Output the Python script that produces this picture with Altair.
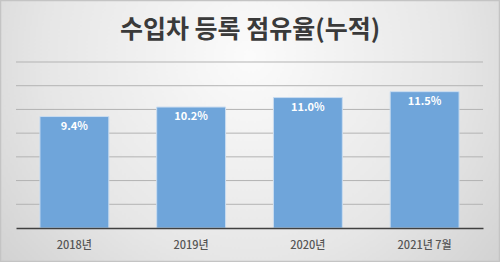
import altair as alt
import pandas as pd

categories = ["2018년", "2019년", "2020년", "2021년 7월"]
values = [9.4, 10.2, 11.0, 11.5]
labels = ["9.4%", "10.2%", "11.0%", "11.5%"]
grid_values = [2, 4, 6, 8, 10, 12, 14]
title_text = "수입차 등록 점유율(누적)"

df = pd.DataFrame({"cat": categories, "val": values, "lab": labels})
gdf = pd.DataFrame({"g": grid_values})

FONT = "Noto Sans CJK KR"

bg = alt.Chart(pd.DataFrame({"a": [0]})).mark_rect(
    fill={
        "gradient": "radial",
        "x1": 0.5, "y1": 0.35, "r1": 0,
        "x2": 0.5, "y2": 0.35, "r2": 0.75,
        "stops": [
            {"offset": 0, "color": "#fbfbfb"},
            {"offset": 0.55, "color": "#e6e6e6"},
            {"offset": 1, "color": "#c9c9c9"},
        ],
    },
    stroke="#c4c4c4",
    strokeWidth=1.5,
).encode(
    x=alt.value(-15.5), x2=alt.value(483.5),
    y=alt.value(-61.5), y2=alt.value(199.5),
)

yscale = alt.Scale(domain=[0, 14], nice=False)

grid = alt.Chart(gdf).mark_rule(color="#b3b3b3", strokeWidth=1).encode(
    y=alt.Y("g:Q", scale=yscale, axis=None)
)

xenc = alt.X("cat:N", sort=categories,
             scale=alt.Scale(paddingInner=0.41, paddingOuter=0.205),
             axis=alt.Axis(title=None, labelAngle=0, labelFont=FONT,
                           labelFontSize=11, labelColor="#555555",
                           labelFontWeight=500,
                           labelPadding=11, ticks=False, domain=True,
                           domainColor="#404040", domainWidth=1.5, grid=False,
                           zindex=1))
yenc = alt.Y("val:Q", scale=yscale, axis=None)

bars = alt.Chart(df).mark_bar(color="#6fa5da", stroke="#c9dcf0", strokeWidth=1).encode(
    x=xenc, y=yenc
)

text = alt.Chart(df).mark_text(
    font=FONT, fontSize=11, fontWeight="bold", color="#ffffff",
    baseline="middle", dy=10
).encode(
    x=alt.X("cat:N", sort=categories), y="val:Q", text="lab:N"
)

title = alt.Chart(pd.DataFrame({"t": [title_text]})).mark_text(
    font=FONT, fontSize=25, fontWeight="bold", color="#3a3a3a",
    align="center", baseline="middle"
).encode(
    x=alt.value(234), y=alt.value(-32), text="t:N"
)

chart = alt.layer(bg, grid, bars, text, title).properties(
    width=467, height=166,
    autosize=alt.AutoSizeParams(type="none"),
    padding={"left": 16, "top": 62, "right": 17, "bottom": 34},
).configure_view(stroke=None).configure(background="#dcdcdc")

chart.save("out.html", embed_options={"renderer": "svg", "actions": False})
